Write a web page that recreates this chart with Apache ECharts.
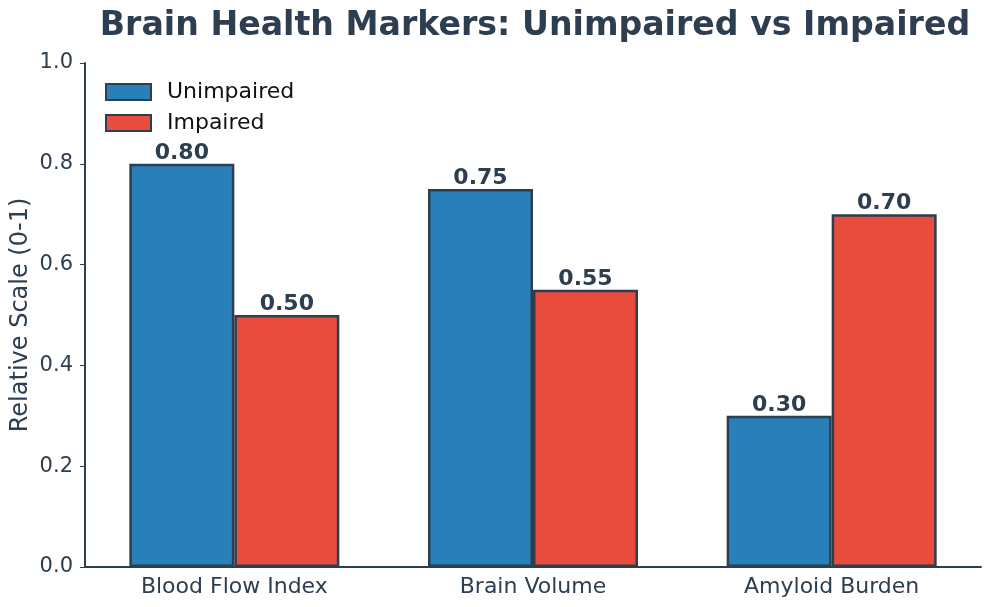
<!DOCTYPE html>
<html><head><meta charset="utf-8">
<script src="https://cdn.jsdelivr.net/npm/echarts@6/dist/echarts.min.js"></script>
<style>html,body{margin:0;padding:0;background:#fff}#c{width:991px;height:607px}</style>
</head><body><div id="c"></div>
<script>
const categories = ['Blood Flow Index', 'Brain Volume', 'Amyloid Burden'];
const unimpaired = [0.80, 0.75, 0.30];
const impaired = [0.50, 0.55, 0.70];
const yTicks = [0.0, 0.2, 0.4, 0.6, 0.8, 1.0];

const dark = '#2c3e50';
const font = 'DejaVu Sans';
const chart = echarts.init(document.getElementById('c'));
const labelOpt = {
  show: true, position: 'top', distance: 0,
  formatter: p => p.value.toFixed(2),
  fontFamily: font, fontWeight: 'bold', fontSize: 22, color: dark
};
chart.setOption({
  animation: false,
  backgroundColor: '#fff',
  textStyle: { fontFamily: font },
  title: {
    text: 'Brain Health Markers: Unimpaired vs Impaired',
    left: 530, top: 5, textAlign: 'center',
    textStyle: { fontFamily: font, fontWeight: 'bold', fontSize: 33.2, color: dark }
  },
  legend: {
    orient: 'vertical', left: 105, top: 81, icon: 'rect', padding: 0,
    itemWidth: 45, itemHeight: 16, itemGap: 9,
    textStyle: { fontFamily: font, fontSize: 22, color: '#111', padding: [0, 0, 0, 11] },
    data: ['Unimpaired', 'Impaired']
  },
  grid: { left: 85, right: 10, top: 63, bottom: 40, outerBoundsMode: 'none', containLabel: false },
  xAxis: {
    type: 'category', data: categories,
    axisLine: { lineStyle: { color: dark, width: 2 } },
    axisTick: { alignWithLabel: true, length: 5, lineStyle: { color: dark } },
    axisLabel: { fontFamily: font, fontSize: 22, color: dark, margin: 9 }
  },
  yAxis: {
    type: 'value', min: 0, max: 1, interval: 0.2,
    name: 'Relative Scale (0-1)', nameLocation: 'middle', nameGap: 52, nameMoveOverlap: false,
    nameTextStyle: { fontFamily: font, fontSize: 24, color: dark },
    axisLine: { show: true, lineStyle: { color: dark, width: 2 } },
    axisTick: { show: true, length: 5, lineStyle: { color: dark } },
    splitLine: { show: false },
    axisLabel: { fontFamily: font, fontSize: 21, color: dark, margin: 12,
      formatter: v => v.toFixed(1) }
  },
  series: [
    { name: 'Unimpaired', type: 'bar', data: unimpaired, barWidth: 105, barGap: '0%',
      itemStyle: { color: '#2980b9', borderColor: dark, borderWidth: 2.5 }, label: labelOpt },
    { name: 'Impaired', type: 'bar', data: impaired, barWidth: 105, barGap: '0%',
      itemStyle: { color: '#e74c3c', borderColor: dark, borderWidth: 2.5 }, label: labelOpt }
  ]
});
</script></body></html>
